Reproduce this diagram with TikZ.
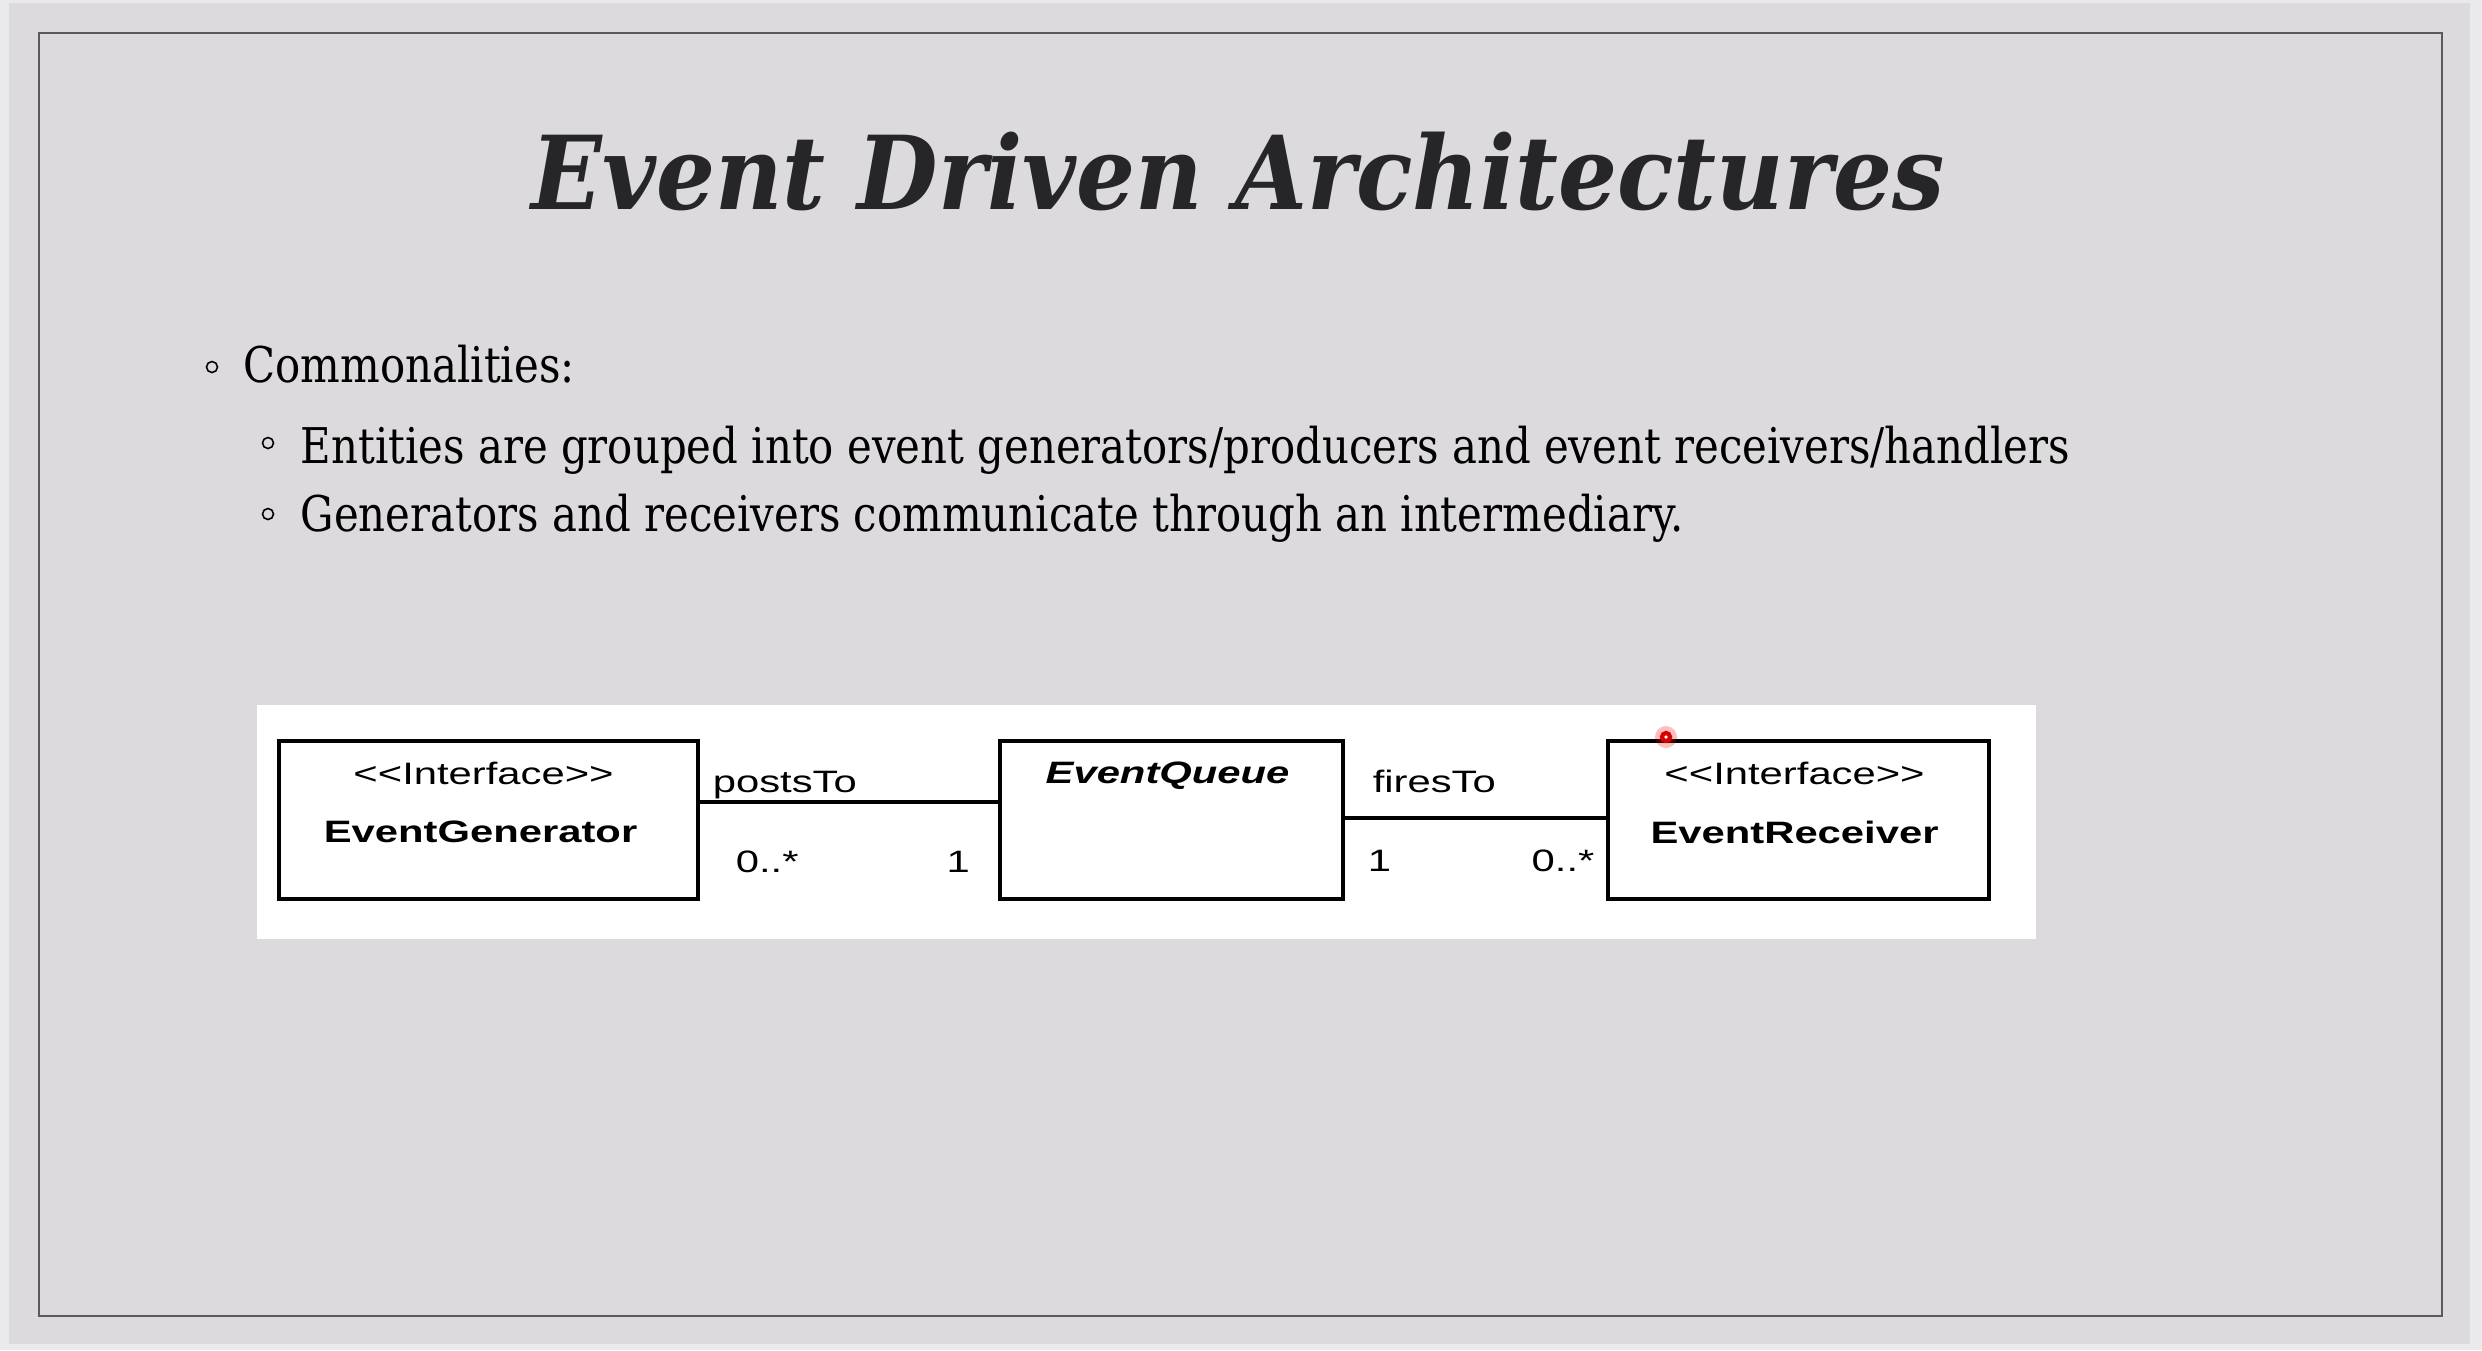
\documentclass[tikz,border=0pt]{standalone}
\usepackage{fontspec}
\usetikzlibrary{calc}
\newfontfamily\titlefont[FakeStretch=0.91]{DejaVu Serif}
\newfontfamily\bodyfont[FakeStretch=0.85]{DejaVu Serif}
\newfontfamily\umlfont[FakeStretch=1.35]{Liberation Sans}
\definecolor{slidebg}{RGB}{220,218,221}
\definecolor{outerbg}{RGB}{234,233,235}
\definecolor{framegray}{RGB}{90,90,92}
\definecolor{titlegray}{RGB}{38,38,40}

\begin{document}
\begin{tikzpicture}[x=0.01cm, y=-0.01cm,
    umlbox/.style={draw, line width=1.1pt, inner sep=0pt, anchor=north west, minimum height=1.58cm},
    umltext/.style={font=\umlfont\fontsize{8.8}{10}\selectfont, inner sep=0pt, anchor=base},
    linktext/.style={font=\umlfont\fontsize{8.8}{10}\selectfont, inner sep=0pt, anchor=base west},
    bodytext/.style={inner sep=0pt, anchor=base west, text=black, font=\bodyfont\fontsize{14}{16}\selectfont},
    bulletmark/.style={circle, draw, line width=0.45pt, inner sep=0pt, minimum size=0.11cm}]

    \useasboundingbox (0,0) rectangle (2482,1350);
    \fill[outerbg] (0,0) rectangle (2482,1350);
    \fill[slidebg] (9,3) rectangle (2470,1344);
    \draw[framegray, line width=0.6pt] (39,33) rectangle (2442,1316);

    \node[anchor=base, inner sep=0pt, text=titlegray, font=\titlefont\bfseries\itshape\fontsize{29}{33}\selectfont] (title) at (1238,209) {Event Driven Architectures};

    % bullets
    \node[bulletmark] (b1) at (212,367) {};
    \node[bodytext] (common) at (243,382) {Commonalities:};
    \node[bulletmark] (b2) at (268,443) {};
    \node[bodytext] (entities) at (300,463) {Entities are grouped into event generators/producers and event receivers/handlers};
    \node[bulletmark] (b3) at (268,514) {};
    \node[bodytext] (generators) at (300,531) {Generators and receivers communicate through an intermediary.};

    % class diagram
    \fill[white] (257,705) rectangle (2036,939);
    \node[umlbox, minimum width=4.19cm] (gen) at (277,739) {};
    \node[umlbox, minimum width=3.43cm] (queue) at (998,739) {};
    \node[umlbox, minimum width=3.81cm] (recv) at (1606,739) {};

    \node[umltext] (genstereo) at ($(gen.north)+(-5,45)$) {<{}<Interface>{}>};
    \node[umltext, font=\umlfont\bfseries\fontsize{8.8}{10}\selectfont] (genname) at ($(gen.north)+(-8,103)$) {EventGenerator};
    \node[umltext, font=\umlfont\bfseries\itshape\fontsize{8.8}{10}\selectfont] (queuename) at ($(queue.north)+(-4,44)$) {EventQueue};
    \node[umltext] (recvstereo) at ($(recv.north)+(-4,45)$) {<{}<Interface>{}>};
    \node[umltext, font=\umlfont\bfseries\fontsize{8.8}{10}\selectfont] (recvname) at ($(recv.north)+(-4,104)$) {EventReceiver};

    \draw[line width=1.1pt] ($(gen.north east)+(0,63)$) -- ($(queue.north west)+(0,63)$);
    \draw[line width=1.1pt] ($(queue.north east)+(0,79)$) -- ($(recv.north west)+(0,79)$);

    \node[linktext] (posts) at ($(gen.north east)+(12,53)$) {postsTo};
    \node[linktext] (postsmany) at ($(gen.north east)+(35,133)$) {0..*};
    \node[linktext] (postsone) at ($(queue.north west)+(-52,133)$) {1};
    \node[linktext] (fires) at ($(queue.north east)+(27,53)$) {firesTo};
    \node[linktext] (firesone) at ($(queue.north east)+(22,132)$) {1};
    \node[linktext] (firesmany) at ($(recv.north west)+(-75,132)$) {0..*};

    % pointer
    \fill[red, opacity=0.25] (1666,737) circle (11);
    \node[circle, draw=red!85!black, fill=white, line width=1.2pt, inner sep=0pt, minimum size=0.08cm] (pointer) at (1666,737) {};

\end{tikzpicture}
\end{document}
